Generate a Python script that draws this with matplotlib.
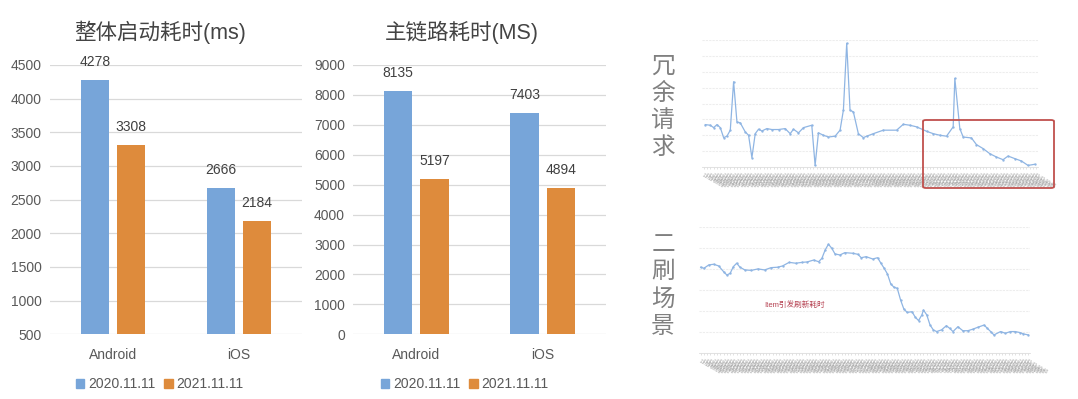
import matplotlib
matplotlib.use("Agg")
import matplotlib.pyplot as plt
from matplotlib.patches import Patch, FancyBboxPatch

W, H = 1078, 399
FONT = ['Liberation Sans', 'Noto Sans CJK SC', 'DejaVu Sans']
plt.rcParams['font.family'] = FONT

# ---------------- data ----------------
platforms = ['Android', 'iOS']
series_names = ['2020.11.11', '2021.11.11']
startup_2020 = [4278, 2666]
startup_2021 = [3308, 2184]
mainlink_2020 = [8135, 7403]
mainlink_2021 = [5197, 4894]

title_startup = '整体启动耗时(ms)'
title_mainlink = '主链路耗时(MS)'
startup_ticks = [500, 1000, 1500, 2000, 2500, 3000, 3500, 4000, 4500]
mainlink_ticks = [0, 1000, 2000, 3000, 4000, 5000, 6000, 7000, 8000, 9000]

# redundant-request trend (relative units, positions on a 0..200 grid)
redundant_x = [1, 4, 6, 8, 10, 12, 14, 16, 18, 20, 22, 25, 27, 29, 31, 33, 35, 38, 41, 45,
               49, 52, 54, 57, 60, 65, 67, 69, 72, 75, 79, 82, 84, 86, 88, 90, 93, 96, 98, 102,
               108, 116, 120, 124, 128, 134, 138, 142, 146, 150, 151, 154, 156, 161, 164, 168,
               172, 176, 180, 183, 187, 191, 195, 199]
redundant_y = [2.67, 2.63, 2.48, 2.67, 2.48, 1.85, 1.94, 2.32, 5.37, 2.84, 2.78, 2.21, 2.00, 0.59,
               2.10, 2.38, 2.27, 2.42, 2.36, 2.36, 2.42, 2.10, 2.38, 2.15, 2.48, 2.63, 0.10, 2.15,
               2.00, 1.89, 1.94, 2.32, 3.58, 7.79, 3.58, 3.47, 2.10, 1.85, 1.94, 2.10, 2.32, 2.32,
               2.69, 2.63, 2.53, 2.25, 2.10, 2.00, 1.94, 2.53, 5.58, 2.42, 1.89, 1.83, 1.41, 1.16,
               0.84, 0.63, 0.46, 0.69, 0.53, 0.38, 0.10, 0.17]

# second-refresh trend (relative units, positions on a 0..200 grid)
refresh_x = [0, 2, 5, 8, 11, 14, 16, 18, 20, 22, 24, 27, 31, 35, 39, 43, 47, 50, 54, 58,
             62, 65, 69, 72, 74, 76, 78, 80, 82, 85, 88, 93, 96, 98, 101, 105, 108, 110, 112, 114,
             116, 118, 120, 122, 124, 126, 129, 131, 133, 135, 136, 138, 140, 142, 144, 147, 150, 152,
             154, 157, 160, 163, 166, 169, 173, 175, 177, 179, 183, 186, 189, 192, 195, 197, 200]
refresh_y = [4.08, 4.03, 4.19, 4.22, 4.14, 3.87, 3.71, 3.79, 4.11, 4.27, 4.08, 3.95, 3.93, 4.00,
             3.95, 4.06, 4.08, 4.14, 4.31, 4.27, 4.31, 4.33, 4.42, 4.34, 4.50, 4.90, 5.17, 4.98,
             4.71, 4.66, 4.77, 4.74, 4.69, 4.53, 4.58, 4.47, 4.53, 4.27, 4.03, 3.76, 3.29, 3.13,
             3.08, 2.53, 2.10, 1.94, 1.97, 1.71, 1.55, 1.82, 2.05, 1.82, 1.34, 1.11, 1.03, 1.11,
             1.31, 1.18, 1.03, 1.26, 1.07, 1.07, 1.14, 1.23, 1.34, 1.18, 1.03, 0.87, 1.03, 0.95,
             1.03, 1.03, 0.98, 0.92, 0.87]

side_label_top = '冗余请求'
side_label_bottom = '二刷场景'
annotation_text = 'Item引发刷新耗时'
time_labels = ['11.11 %02d:%02d' % (h, m) for h in range(0, 24) for m in (0, 10, 20, 30, 40, 50)][:101]

BLUE = '#77a5d9'
ORANGE = '#de8b3c'
TXT = '#595959'
GRID = '#d9d9d9'
LINE = '#8fb5e3'

fig = plt.figure(figsize=(W / 100, H / 100), dpi=100)
fig.patch.set_facecolor('white')


def box(x0, y0, x1, y1):
    return [x0 / W, 1 - y1 / H, (x1 - x0) / W, (y1 - y0) / H]


def bar_chart(rect, v1, v2, ticks, title, title_x):
    ax = fig.add_axes(rect)
    xs = list(range(len(platforms)))
    bw, off = 0.225, 0.144
    b1 = ax.bar([x - off for x in xs], v1, bw, color=BLUE, zorder=3, bottom=0)
    b2 = ax.bar([x + off for x in xs], v2, bw, color=ORANGE, zorder=3)
    ax.set_xlim(-0.5, 1.5)
    ax.set_ylim(ticks[0], ticks[-1])
    ax.set_yticks(ticks)
    ax.set_xticks(xs)
    ax.set_xticklabels(platforms)
    ax.tick_params(axis='both', length=0, labelsize=10, colors=TXT)
    ax.tick_params(axis='y', pad=6)
    ax.tick_params(axis='x', pad=10)
    ax.yaxis.grid(True, color=GRID, lw=0.9, zorder=0)
    for s in ax.spines.values():
        s.set_visible(False)
    for bars, vals in ((b1, v1), (b2, v2)):
        for r, v in zip(bars, vals):
            ax.annotate(str(v), (r.get_x() + r.get_width() / 2, v), xytext=(0, 8),
                        textcoords='offset points', ha='center', va='bottom',
                        fontsize=10, color='#404040')
    fig.text(title_x / W, 1 - 32 / H, title, ha='center', va='center', fontsize=15.5,
             color='#444444', family=FONT)
    return ax


ax1 = bar_chart(box(50, 65, 302, 334.3), startup_2020, startup_2021, startup_ticks,
                title_startup, 160)
ax2 = bar_chart(box(353.3, 65, 606, 334.3), mainlink_2020, mainlink_2021, mainlink_ticks,
                title_mainlink, 462)

for ax, cx in ((ax1, 160), (ax2, 465)):
    handles = [Patch(color=BLUE, label=series_names[0]), Patch(color=ORANGE, label=series_names[1])]
    fig.legend(handles=handles, loc='center', bbox_to_anchor=(cx / W, 1 - 384 / H), ncol=2,
               frameon=False, fontsize=10, handlelength=0.6, handleheight=0.6,
               handletextpad=0.3, columnspacing=0.6, labelcolor=TXT)


def line_chart(rect, xs, ys, ymax):
    ax = fig.add_axes(rect)
    ax.plot(xs, ys, color=LINE, lw=0.9, marker='o', ms=0.7, zorder=3)
    ax.set_xlim(-1, 201)
    ax.set_ylim(0, ymax)
    ax.set_yticks(range(0, ymax + 1))
    ax.yaxis.grid(True, color='#ededed', lw=0.8, ls=(0, (2, 1)), zorder=0)
    ax.tick_params(axis='y', length=0, labelleft=False)
    tick_pos = list(range(0, 201, 2))
    ax.set_xticks(tick_pos)
    ax.set_xticklabels(time_labels[:len(tick_pos)], rotation=-30, ha='left',
                       rotation_mode='anchor', fontsize=3.3, color='#a0a0a0')
    ax.tick_params(axis='x', length=1.5, width=0.4, color='#cccccc', pad=2.5)
    for k, s in ax.spines.items():
        s.set_visible(k == 'bottom')
    ax.spines['bottom'].set_color('#dddddd')
    ax.spines['bottom'].set_linewidth(0.6)
    return ax


ax3 = line_chart(box(702, 40, 1038, 167), redundant_x, redundant_y, 8)
ax4 = line_chart(box(699, 226.7, 1030, 353.3), refresh_x, refresh_y, 6)

ax4.text(0.196, 0.38, annotation_text, transform=ax4.transAxes, fontsize=5.5,
         color='#b54050', family=FONT, va='center')

fig.text(663 / W, 1 - 107 / H, '\n'.join(side_label_top), ha='center', va='center',
         fontsize=17, color='#808080', linespacing=1.3, family=FONT)
fig.text(663 / W, 1 - 286 / H, '\n'.join(side_label_bottom), ha='center', va='center',
         fontsize=17, color='#808080', linespacing=1.3, family=FONT)

rect = FancyBboxPatch((923 / W, 1 - 188 / H), (1054 - 923) / W, (188 - 120) / H,
                      boxstyle='round,pad=0,rounding_size=0.003', transform=fig.transFigure,
                      fill=False, edgecolor='#c0504d', lw=1.3, zorder=10)
fig.patches.append(rect)

fig.savefig('out.png', dpi=100, facecolor='white')
